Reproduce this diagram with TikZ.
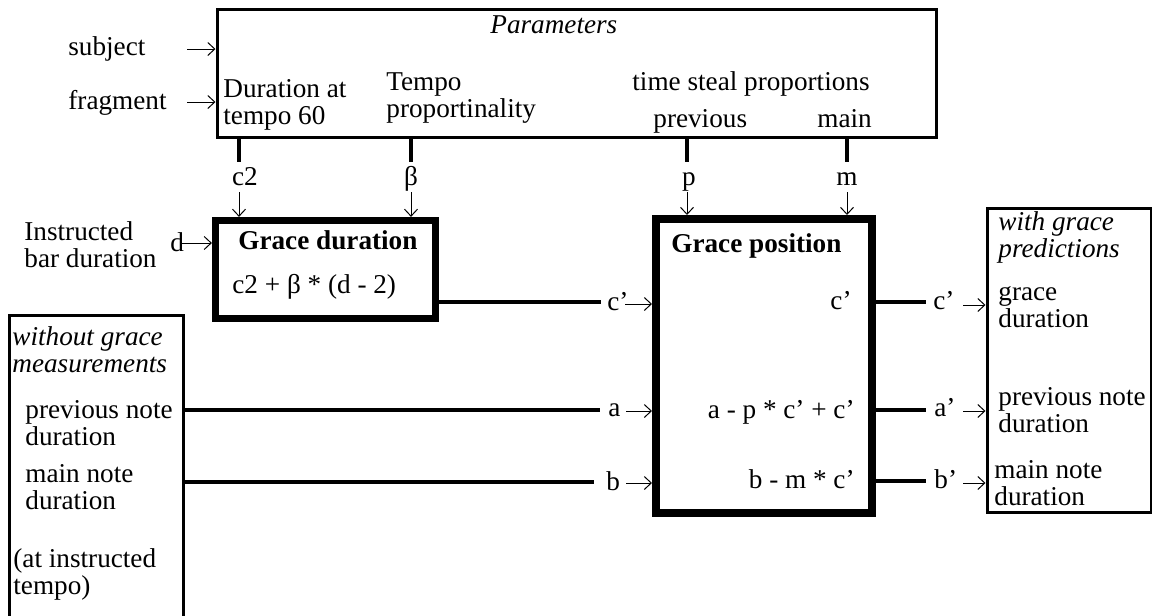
\documentclass[tikz,border=0pt]{standalone}
\usepackage{fontspec}
\setmainfont{Liberation Serif}
\usetikzlibrary{arrows.meta}
\newcommand\dfont{\fontsize{13.6pt}{13.5pt}\selectfont}
\newcommand\twoln[2]{\vtop{\hbox{#1}\hbox{#2}}}
\begin{document}
\begin{tikzpicture}[x=0.5pt,y=-0.5pt,font=\dfont,
  txt/.style={inner sep=0pt, anchor=base west},
  rtxt/.style={inner sep=0pt, anchor=base east},
  lab/.style={anchor=base, inner xsep=0pt, inner ysep=0pt, text height=11.5pt, text depth=3.5pt},
  pbox/.style={draw, line width=1.5pt, inner sep=0pt},
  gbox/.style={draw, inner sep=0pt},
  wire/.style={line width=1.6pt},
  arr/.style={line width=0.5pt, -{Straight Barb[length=3.5pt,width=6.5pt]}},
]
\useasboundingbox (0,0) rectangle (1152,616);
\clip (0,0) rectangle (1152,616);

% boxes
\node[pbox, minimum width=359.5pt, minimum height=64pt] (params) at (576.5,73) {};
\node[gbox, line width=3.6pt, minimum width=110pt, minimum height=49pt] (gd) at (325.5,269.5) {};
\node[gbox, line width=4pt, minimum width=108pt, minimum height=147pt] (gp) at (764,366) {};
\node[pbox, minimum width=82pt, minimum height=152pt] (rb) at (1069,360) {};
\node[pbox, minimum width=87pt, minimum height=165pt] (lb) at (96,480) {};

% parameters box texts
\node[txt, font=\dfont\itshape] (ptitle) at (490,33) {Parameters};
\node[txt] (dur60) at (223,97) {\twoln{Duration at}{tempo 60}};
\node[txt] (tprop) at (386,90) {\twoln{Tempo}{proportinality}};
\node[txt] (tsp) at (632,90) {time steal proportions};
\node[txt] (prevp) at (653,127) {previous};
\node[txt] (mainp) at (817,127) {main};

% inputs to parameters
\node[txt] (subj) at (68,55) {subject};
\node[txt] (frag) at (68,109) {fragment};
\coordinate (s1) at (187,49);
\coordinate (s2) at (187,102);
\draw[arr] (s1) -- (s1 -| params.west);
\draw[arr] (s2) -- (s2 -| params.west);

% parameter outputs
\coordinate (xc2) at (239,0);
\coordinate (xbe) at (411,0);
\coordinate (xp) at (687,0);
\coordinate (xm) at (847,0);
\node[lab] (c2lab) at (245,185) {c2};
\node[lab] (belab) at (411,185) {β};
\node[lab] (plab) at (689,185) {p};
\node[lab] (mlab) at (847,185) {m};
\draw[wire] (params.south -| xc2) -- (c2lab.north -| xc2);
\draw[wire] (params.south -| xbe) -- (belab.north -| xbe);
\draw[wire] (params.south -| xp) -- (plab.north -| xp);
\draw[wire] (params.south -| xm) -- (mlab.north -| xm);
\draw[arr] (c2lab.south -| xc2) -- (gd.north -| xc2);
\draw[arr] (belab.south -| xbe) -- (gd.north -| xbe);
\draw[arr] (plab.south -| xp) -- (gp.north -| xp);
\draw[arr] (mlab.south -| xm) -- (gp.north -| xm);

% instructed bar duration
\node[txt] (ibd) at (24,240) {\twoln{Instructed}{bar duration}};
\node[txt] (dlab) at (170,251) {d};
\coordinate (darr) at (182,243);
\draw[arr] (darr) -- (darr -| gd.west);

% grace duration box
\node[txt, font=\dfont\bfseries] (gdt) at (238,249) {Grace duration};
\node[txt] (gdf) at (232,293) {c2 + β * (d - 2)};

% c' into grace position
\coordinate (cend) at (601,302);
\draw[wire] (gd.east |- cend) -- (cend);
\node[txt] (cplab) at (607,310) {c’};
\coordinate (carr) at (625,304);
\draw[arr] (carr) -- (carr -| gp.west);

% left box
\node[txt, font=\dfont\itshape] (wog) at (12,345) {\twoln{without grace}{measurements}};
\node[txt] (pnd) at (25,418) {\twoln{previous note}{duration}};
\node[txt] (mnd) at (25,482) {\twoln{main note}{duration}};
\node[txt] (ait) at (13,567) {\twoln{(at instructed}{tempo)}};

% a and b
\coordinate (aend) at (600,410);
\draw[wire] (lb.east |- aend) -- (aend);
\node[txt] (alab) at (608,416) {a};
\coordinate (aarr) at (626,411);
\draw[arr] (aarr) -- (aarr -| gp.west);

\coordinate (bend) at (594,482);
\draw[wire] (lb.east |- bend) -- (bend);
\node[txt] (blab) at (606,490) {b};
\coordinate (barr) at (626,483);
\draw[arr] (barr) -- (barr -| gp.west);

% grace position box
\node[txt, font=\dfont\bfseries] (gpt) at (671,252) {Grace position};
\node[rtxt] (gpc) at (852,309) {c’};
\node[rtxt] (gpa) at (855,418) {a - p * c’ + c’};
\node[rtxt] (gpb) at (855,488) {b - m * c’};

% outputs
\coordinate (oc) at (926,302);
\draw[wire] (gp.east |- oc) -- (oc);
\node[txt] (oclab) at (933,309) {c’};
\coordinate (ocarr) at (963,305);
\draw[arr] (ocarr) -- (ocarr -| rb.west);

\coordinate (oa) at (926,410);
\draw[wire] (gp.east |- oa) -- (oa);
\node[txt] (oalab) at (934,416) {a’};
\coordinate (oaarr) at (963,411);
\draw[arr] (oaarr) -- (oaarr -| rb.west);

\coordinate (ob) at (926,481);
\draw[wire] (gp.east |- ob) -- (ob);
\node[txt] (oblab) at (934,488) {b’};
\coordinate (obarr) at (963,483);
\draw[arr] (obarr) -- (obarr -| rb.west);

% right box
\node[txt, font=\dfont\itshape] (wgp) at (998,230) {\twoln{with grace}{predictions}};
\node[txt] (gdr) at (998,300) {\twoln{grace}{duration}};
\node[txt] (pndr) at (998,405) {\twoln{previous note}{duration}};
\node[txt] (mndr) at (994,478) {\twoln{main note}{duration}};
\end{tikzpicture}
\end{document}
